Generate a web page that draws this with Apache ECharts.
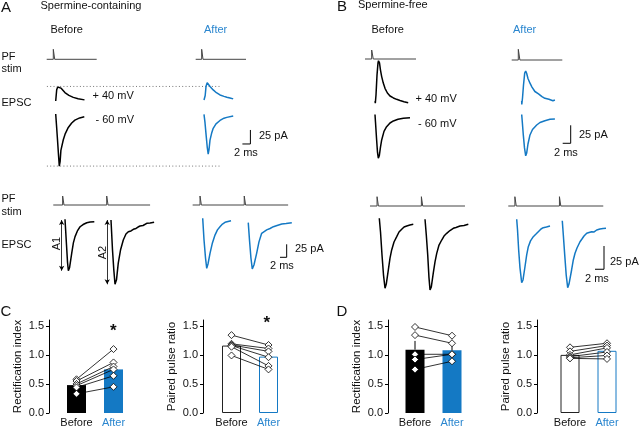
<!DOCTYPE html>
<html><head><meta charset="utf-8">
<script src="https://cdn.jsdelivr.net/npm/echarts@6/dist/echarts.min.js"></script>
<style>html,body{margin:0;padding:0;background:#fff}#c{width:640px;height:428px}</style>
</head><body><div id="c"></div>
<script>
// ================= DATA =================
const SCALE_MS = 2, SCALE_PA = 25;
// stimulus waveforms (t in ms, arbitrary units)
const aTopStimBefore = [[-2.25,0],[-0.6,0],[-0.6,1],[-0.25,1],[-0.25,0],[10.25,0]];
const aTopStimAfter  = [[-2.08,0],[-0.58,0],[-0.58,1],[-0.25,1],[-0.25,0],[10.5,0]];
const aBotStimBefore = [[-3.5,0],[-0.7,0],[-0.7,1],[-0.3,1],[-0.3,0],[12.45,0],[12.45,1],[12.85,1],[12.85,0],[25.4,0]];
const aBotStimAfter  = [[-3.0,0],[-0.8,0],[-0.8,1],[-0.4,1],[-0.4,0],[12.4,0],[12.4,1],[12.8,1],[12.8,0],[25.5,0]];
const bTopStimBefore = [[-2.5,0],[-0.83,0],[-0.83,1],[-0.43,1],[-0.43,0],[10.25,0]];
const bTopStimAfter  = [[-2.5,0],[-0.85,0],[-0.85,1],[-0.45,1],[-0.45,0],[10.15,0]];
const bBotStimBefore = [[-2.07,0],[-0.5,0],[-0.5,1],[-0.2,1],[-0.2,0],[9.35,0],[9.35,1],[9.65,1],[9.65,0],[19.04,0]];
const bBotStimAfter  = [[-1.87,0],[-0.4,0],[-0.4,1],[-0.1,1],[-0.1,0],[9.5,0],[9.5,1],[9.8,1],[9.8,0],[19.24,0]];

// EPSC traces (t in ms, I in pA)
const aTopPosBefore = [[0,0],[0.1,8],[0.25,20],[0.5,25],[0.85,26],[1.3,23],[2.3,15],[3.3,10],[4.4,6.5],[5.6,4],[7.2,2]];
const aTopNegBefore = [[0,0],[0.2,-20],[0.45,-46],[0.7,-73],[0.9,-93],[1.1,-85],[1.3,-65],[1.9,-46],[2.4,-35],[3.15,-24],[4,-16],[4.8,-11],[6,-7],[7.15,-5]];
const aTopPosAfter  = [[0,0],[0.15,-3],[0.3,8],[0.5,24],[0.8,31],[1.1,28],[1.5,24],[1.9,21],[2.3,18],[2.7,15],[3.1,13],[3.5,10.5],[4,9],[4.5,7.5],[5,6.5],[5.4,5.5],[5.7,5],[6.1,3],[6.5,3.5],[7,2],[7.3,2]];
const aTopNegAfter  = [[0,0],[0.25,-15],[0.5,-35],[0.8,-58],[1.05,-71],[1.25,-63],[1.5,-46],[1.9,-34],[2.3,-25],[3,-17],[4,-11],[5,-7],[5.7,-5.5],[7.3,-3]];

const aPairBefore1 = [[0,1.3],[0.45,-48],[0.75,-81],[1.0,-97.5],[1.35,-92],[2.0,-64],[2.5,-44],[3.0,-32],[3.7,-21],[4.5,-13],[5.4,-8.7],[6.5,-5.2],[7.5,-3.8],[8.75,-3.3]];
const aPairBefore2 = [[13.73,0],[14.18,-57.7],[14.57,-96],[14.93,-123.6],[15.37,-115],[15.9,-83],[16.57,-57.7],[17.4,-38.5],[18.2,-27],[18.9,-22.5],[19.7,-21],[20.4,-17.9],[21.2,-16.3],[21.8,-13.5],[22.4,-11.5],[23.3,-10.6],[24.4,-6.3],[25.4,-5.8],[26.6,-4.4]];
const aPairAfter1  = [[0,2.3],[0.39,-39],[0.84,-74],[1.2,-94],[1.58,-85.6],[2.18,-65],[2.9,-45],[3.67,-30],[4.4,-20],[5.16,-13.8],[5.9,-8.7],[6.66,-5.4],[7.55,-3.8],[8.45,-2.3]];
const aPairAfter2  = [[13.6,-6],[13.96,-39],[14.4,-74],[14.8,-95],[15.3,-87.5],[16.1,-65],[16.8,-43],[17.6,-26.5],[18.15,-23],[19.1,-20],[20.1,-17.3],[21.1,-13.8],[22.2,-11.5],[23.6,-8.7],[24.9,-7.7],[26.6,-6.2]];

const bTopPosBefore = [[0,2],[0.08,-1],[0.25,10.4],[0.5,38],[0.75,55],[0.87,58],[1.12,55],[1.37,45],[1.67,36],[2.07,27],[2.5,19.7],[3.1,13.2],[3.75,9],[4.6,6.3],[5.4,4.4],[6.25,2.8],[7.25,1],[8.3,-0.3]];
const bTopNegBefore = [[0,1.4],[0.12,-9],[0.37,-31],[0.62,-51],[0.83,-59.4],[1.07,-56],[1.37,-44],[1.67,-34],[2.25,-22],[2.9,-15.6],[3.75,-10.4],[4.6,-7.6],[5.75,-5.3],[7.1,-3.9],[8.75,-3]];
const bTopPosAfter  = [[0,-0.7],[0.02,-5.5],[0.2,3.5],[0.45,21.5],[0.75,38],[1.0,41],[1.25,37.5],[1.57,30.5],[2.07,24],[2.57,18.7],[2.9,16.7],[3.3,12.5],[3.75,10],[4.2,9.3],[4.57,7],[5.07,5.5],[5.8,3],[6.3,4.2],[6.8,1.7],[7.3,1.4],[7.8,-0.4],[8.3,0.7]];
const bTopNegAfter  = [[0,1.4],[0.15,-9],[0.4,-27],[0.7,-45],[1.0,-56],[1.25,-52],[1.57,-39.6],[2.07,-27],[2.7,-19.4],[3.75,-13.2],[4.57,-9.7],[5.8,-7.2],[7.07,-5.3],[8.3,-4.9]];

const bPairBefore1 = [[0,0.75],[0.27,-14],[0.6,-38.7],[0.93,-60],[1.27,-74.5],[1.55,-70],[2.0,-55],[2.38,-42],[2.75,-33.3],[3.27,-24.7],[3.87,-19],[4.38,-14],[4.98,-11],[5.5,-8.6],[6.1,-7.5],[6.8,-6.5],[7.55,-5.7]];
const bPairBefore2 = [[10.16,-0.3],[10.44,-17],[10.76,-38.7],[11.04,-63],[11.27,-76.3],[11.56,-73],[12.0,-58],[12.38,-46],[12.76,-37],[13.27,-28],[13.87,-22.6],[14.38,-18.3],[14.98,-15.4],[15.7,-12.4],[16.44,-10],[17.04,-9.1],[17.93,-7.5],[18.82,-7],[19.78,-5.7]];
const bPairAfter1  = [[0,0.2],[0.18,-11],[0.44,-33],[0.73,-52],[1.11,-68],[1.4,-65],[1.84,-50.8],[2.22,-38],[2.58,-29.2],[3.07,-23],[3.69,-18.5],[4.29,-15.6],[4.8,-13.1],[5.4,-10.2],[5.9,-8.8],[6.6,-8],[7.4,-7]];
const bPairAfter2  = [[10.13,-1.3],[10.36,-16.7],[10.67,-38],[11.0,-59.7],[11.33,-73.3],[11.62,-69.4],[12.2,-54.3],[12.58,-43.5],[12.96,-36.3],[13.4,-30.6],[14.07,-23.9],[14.5,-21],[14.96,-17.7],[15.56,-14.8],[16.07,-14],[16.67,-13.1],[17.2,-13.4],[17.78,-11.3],[18.5,-10.2],[19.2,-9.7],[19.84,-9.5]];

// bar charts
const barCats = ['Before', 'After'];
const yTicks = [0, 0.5, 1, 1.5];
const cRectMean = [0.48, 0.75], cRectSem = [0.03, 0.08];
const cRectBefore = [0.58, 0.55, 0.50, 0.47, 0.44, 0.33];
const cRectAfter  = [1.10, 0.87, 0.80, 0.75, 0.64, 0.45];
const cPprMean = [1.16, 0.97], cPprSem = [0.04, 0.06];
const cPprBefore = [1.34, 1.19, 1.17, 1.16, 1.14, 0.99];
const cPprAfter  = [1.17, 1.11, 1.06, 0.96, 0.81, 0.75];
const dRectMean = [1.09, 1.08], dRectSem = [0.15, 0.10];
const dRectBefore = [1.48, 1.34, 1.01, 0.92, 0.75];
const dRectAfter  = [1.33, 1.20, 1.01, 1.01, 0.89];
const dPprMean = [1.00, 1.07], dPprSem = [0.03, 0.04];
const dPprBefore = [1.13, 1.06, 1.00, 0.97, 0.95, 0.94];
const dPprAfter  = [1.20, 1.16, 1.12, 1.05, 0.99, 0.93];

// ================= BUILD =================
const BLUE = '#1479c4', BLUE_T = '#2a86cf', INK = '#111', STIM = '#444';
const FF = '"Liberation Sans", Arial, Helvetica, sans-serif';
const W = 640;
const grids = [], xAxes = [], yAxes = [], series = [];

function traceGrid(x0, y0, pxX, pxY, tMin, tMax, yMin, yMax) {
  tMax = Math.min(tMax, (W - 1 - x0) / pxX);   // keep the grid inside the canvas
  const i = grids.length;
  grids.push({left: x0 + tMin * pxX, top: y0 - yMax * pxY, width: (tMax - tMin) * pxX, height: (yMax - yMin) * pxY});
  xAxes.push({type: 'value', gridIndex: i, min: tMin, max: tMax, show: false});
  yAxes.push({type: 'value', gridIndex: i, min: yMin, max: yMax, show: false});
  return i;
}
function line(gi, data, color, width, extra) {
  series.push(Object.assign({type: 'line', xAxisIndex: gi, yAxisIndex: gi, data: data, symbol: 'none',
    silent: true, animation: false, lineStyle: {color: color, width: width}, z: 5}, extra || {}));
}
function stim(x0, y0, pxX, pxY, data) {
  const g = traceGrid(x0, y0, pxX, pxY, -5, 30, -0.5, 1.5);
  line(g, data, STIM, 1);
}
function trace(x0, y0, pxX, pxY, data, color, extra) {
  const g = traceGrid(x0, y0, pxX, pxY, -5, 45, -140, 80);
  line(g, data, color, 1.5, extra);
  return g;
}
function scaleBar(g, t0, b) {
  line(g, [[t0 - SCALE_MS, b], [t0, b], [t0, b + SCALE_PA]], '#000', 1);
}
const maxI = d => Math.max.apply(null, d.map(p => p[1]));
const minI = d => Math.min.apply(null, d.map(p => p[1]));
const dotted = {color: '#777', width: 1, type: [1, 2.3]};

// ---- Panel A top ----
stim(55.7, 59.3, 4, 10, aTopStimBefore);
stim(204, 59.3, 4, 10, aTopStimAfter);
let g = trace(55.7, 101, 4, 0.56, aTopPosBefore, '#000');
line(g, [[-2.2, maxI(aTopPosBefore)], [41.1, maxI(aTopPosBefore)]], '#777', 1, {lineStyle: dotted});
g = trace(55.7, 114, 4, 0.56, aTopNegBefore, '#000');
line(g, [[-2.2, minI(aTopNegBefore)], [41.1, minI(aTopNegBefore)]], '#777', 1, {lineStyle: dotted});
trace(204, 100, 4, 0.56, aTopPosAfter, BLUE);
g = trace(204, 114.3, 4, 0.56, aTopNegAfter, BLUE);
scaleBar(g, 11.6, -53);

// ---- Panel A bottom ----
stim(65, 205, 3.35, 9, aBotStimBefore);
stim(202.7, 205, 3.35, 9, aBotStimAfter);
const arrowML = (t, lo) => ({symbol: ['arrow', 'arrow'], symbolSize: [4, 5], silent: true, animation: false,
  lineStyle: {color: '#000', width: 0.8, type: 'solid'}, label: {show: false},
  data: [[{coord: [t, 0]}, {coord: [t, lo]}]]});
g = trace(65, 220, 3.35, 0.52, aPairBefore1, '#000', {markLine: arrowML(-1.0, minI(aPairBefore1))});
line(g, aPairBefore2, '#000', 1.5, {markLine: arrowML(12.6, minI(aPairBefore2))});
g = trace(202.7, 219.5, 3.35, 0.52, aPairAfter1, BLUE);
line(g, aPairAfter2, BLUE, 1.5);
scaleBar(g, 25.07, -72.7);

// ---- Panel B top ----
stim(375, 59, 4, 9, bTopStimBefore);
stim(521.7, 60, 4, 10.7, bTopStimAfter);
trace(375, 102.5, 4, 0.72, bTopPosBefore, '#000');
trace(375, 115.5, 4, 0.72, bTopNegBefore, '#000');
trace(521.7, 100.5, 4, 0.72, bTopPosAfter, BLUE);
g = trace(521.7, 115.5, 4, 0.72, bTopNegAfter, BLUE);
scaleBar(g, 12.25, -38.6);

// ---- Panel B bottom ----
stim(379.3, 206, 4.5, 9.3, bBotStimBefore);
stim(516.7, 206, 4.5, 9.3, bBotStimAfter);
g = trace(379.3, 219, 4.5, 0.93, bPairBefore1, '#000');
line(g, bPairBefore2, '#000', 1.5);
g = trace(516.7, 219.5, 4.5, 0.93, bPairAfter1, BLUE);
line(g, bPairAfter2, BLUE, 1.5);
scaleBar(g, 19.4, -53.5);

// ---- Bar charts ----
function barChart(left, offset, name, mean, sem, before, after, filled) {
  const i = grids.length;
  grids.push({left: left, top: 320, width: 74, height: 95});
  xAxes.push({type: 'category', gridIndex: i, data: [
      {value: barCats[0], textStyle: {color: INK}},
      {value: barCats[1], textStyle: {color: BLUE_T}}],
    axisLine: {show: false}, axisTick: {show: false},
    axisLabel: {fontSize: 11, fontFamily: FF, margin: 4, interval: 0}});
  yAxes.push({type: 'value', gridIndex: i, min: 0, max: 1.6, interval: 0.5, offset: offset,
    axisLine: {show: true, lineStyle: {color: '#000', width: 1}},
    axisTick: {show: true, length: 3, customValues: yTicks, lineStyle: {color: '#000'}},
    axisLabel: {customValues: yTicks, formatter: v => v.toFixed(1), fontSize: 11, fontFamily: FF, color: INK, margin: 5},
    splitLine: {show: false},
    name: name, nameLocation: 'middle', nameGap: 25,
    nameTextStyle: {fontSize: 11.5, fontFamily: FF, color: INK}});
  const bs = filled
    ? [{color: '#000'}, {color: BLUE}]
    : [{color: '#fff', borderColor: '#222', borderWidth: 1}, {color: '#fff', borderColor: BLUE, borderWidth: 1}];
  series.push({type: 'bar', xAxisIndex: i, yAxisIndex: i, barWidth: 19, silent: true, animation: false, z: 2,
    data: mean.map((m, k) => ({value: m, itemStyle: bs[k]}))});
  mean.forEach((m, k) => {
    series.push({type: 'line', xAxisIndex: i, yAxisIndex: i, symbol: 'none', silent: true, animation: false, z: 3,
      lineStyle: {color: '#000', width: 1}, data: [[barCats[k], m], [barCats[k], m + sem[k]]]});
  });
  before.forEach((b, k) => {
    series.push({type: 'line', xAxisIndex: i, yAxisIndex: i, symbol: 'diamond', symbolSize: 7, silent: true,
      animation: false, z: 4, lineStyle: {color: '#000', width: 0.8},
      itemStyle: {color: '#fff', borderColor: '#000', borderWidth: 0.8},
      data: [[barCats[0], b], [barCats[1], after[k]]]});
  });
}
barChart(58, 9, 'Rectification index', cRectMean, cRectSem, cRectBefore, cRectAfter, true);
barChart(213, 10, 'Paired pulse ratio', cPprMean, cPprSem, cPprBefore, cPprAfter, false);
barChart(396.5, 8.5, 'Rectification index', dRectMean, dRectSem, dRectBefore, dRectAfter, true);
barChart(551.5, 14.5, 'Paired pulse ratio', dPprMean, dPprSem, dPprBefore, dPprAfter, false);

// ---- Text ----
function txt(t, x, y, opt) {
  opt = opt || {};
  return {type: 'text', x: x, y: y, rotation: opt.rot || 0, silent: true, z: 10,
    style: {text: t, fill: opt.color || INK, fontSize: opt.size || 11, fontFamily: FF,
      fontWeight: opt.weight || 'normal', align: opt.align || 'left', verticalAlign: 'middle'}};
}
const graphic = [
  txt('A', 1, 8, {size: 15}), txt('Spermine-containing', 40.5, 6),
  txt('Before', 50.5, 30), txt('After', 204, 30, {color: BLUE_T}),
  txt('PF', 1.5, 57), txt('stim', 1.5, 69), txt('EPSC', 1.5, 103),
  txt('+ 40 mV', 92.5, 96), txt('- 60 mV', 95.5, 119.5),
  txt('25 pA', 259, 136), txt('2 ms', 234, 153),
  txt('PF', 1.5, 199), txt('stim', 1.5, 212), txt('EPSC', 1.5, 245),
  txt('A1', 57.3, 243.5, {rot: Math.PI / 2, align: 'center'}),
  txt('A2', 102.7, 252.5, {rot: Math.PI / 2, align: 'center'}),
  txt('25 pA', 295, 248.5), txt('2 ms', 270, 266),
  txt('B', 337, 7, {size: 15}), txt('Spermine-free', 358, 5),
  txt('Before', 371.5, 30), txt('After', 513, 30, {color: BLUE_T}),
  txt('+ 40 mV', 415.5, 99), txt('- 60 mV', 418, 123.5),
  txt('25 pA', 579, 135), txt('2 ms', 554, 153),
  txt('25 pA', 610, 261.5), txt('2 ms', 585, 279),
  txt('C', 0.5, 312, {size: 15}), txt('D', 336.5, 312, {size: 15}),
  txt('*', 113.3, 331, {size: 17, weight: 'bold', align: 'center'}),
  txt('*', 266.7, 323, {size: 17, weight: 'bold', align: 'center'})
];

const chart = echarts.init(document.getElementById('c'), null, {renderer: 'canvas'});
chart.setOption({animation: false, backgroundColor: '#fff', grid: grids, xAxis: xAxes, yAxis: yAxes,
  series: series, graphic: graphic});
</script></body></html>
